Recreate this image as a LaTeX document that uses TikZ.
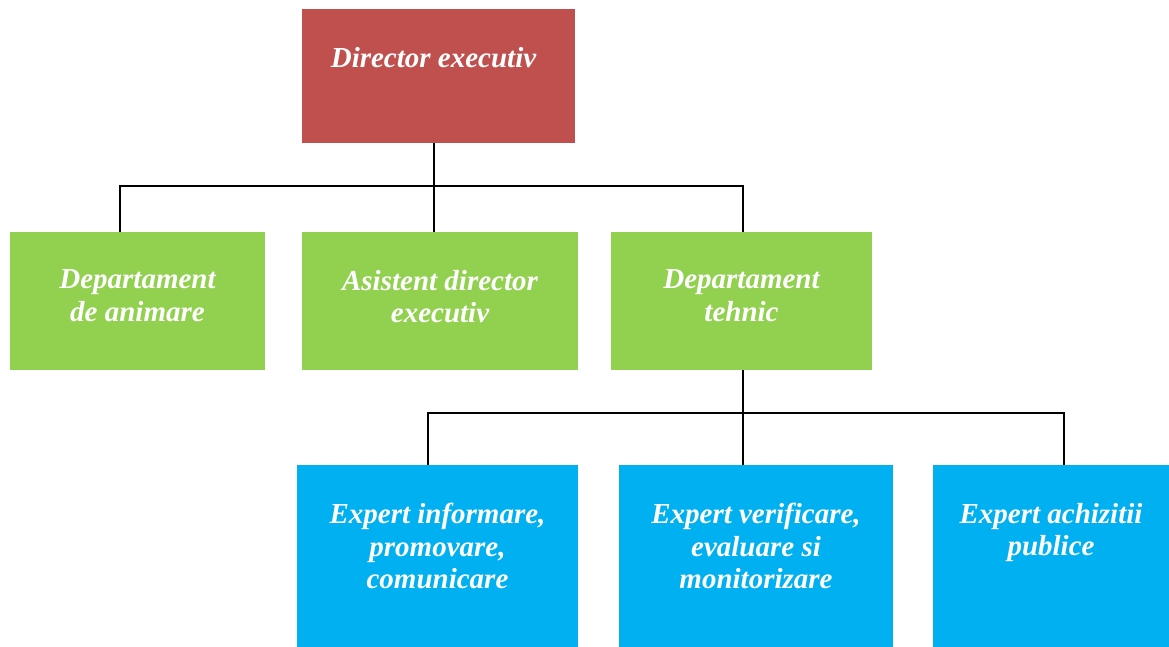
\documentclass[tikz,border=0pt]{standalone}
\usepackage{fontspec}
\setmainfont{Liberation Serif}
\usetikzlibrary{positioning}
\definecolor{dirred}{HTML}{C0504D}
\definecolor{depgreen}{HTML}{92D050}
\definecolor{expblue}{HTML}{00B0F0}
\tikzset{
 box/.style={rectangle, inner sep=0pt, draw=none},
 boxtext/.style={anchor=north, inner sep=0pt, align=center, text=white,
   font=\fontsize{14.5pt}{16.3pt}\selectfont\bfseries\itshape},
 link/.style={line width=0.7pt, black},
}
\begin{document}
\begin{tikzpicture}[x=0.5pt,y=-0.5pt]
\useasboundingbox (0,0) rectangle (1169,647);
% Director
\node[box, fill=dirred, minimum width=136.5pt, minimum height=67pt] (dir) at (438.5,76) {};
\node[boxtext, below=19pt of dir.north, xshift=-2.5pt] (dirtxt) {Director executiv};
% Departments
\node[box, fill=depgreen, minimum width=127.5pt, minimum height=69pt] (anim) at (137.5,301) {};
\node[box, fill=depgreen, minimum width=138pt, minimum height=69pt] (asist) at (440,301) {};
\node[box, fill=depgreen, minimum width=130.5pt, minimum height=69pt] (tehn) at (741.5,301) {};
\node[boxtext, below=19pt of anim.north] (animtxt) {Departament\\de animare};
\node[boxtext, below=19pt of asist.north] (asisttxt) {Asistent director\\executiv};
\node[boxtext, below=19pt of tehn.north] (tehntxt) {Departament\\tehnic};
% Experts
\node[box, fill=expblue, minimum width=140.5pt, minimum height=91pt] (info) at (437.5,556) {};
\node[box, fill=expblue, minimum width=137pt, minimum height=91pt] (verif) at (756,556) {};
\node[box, fill=expblue, minimum width=118pt, minimum height=91pt] (achiz) at (1051,556) {};
\node[boxtext, below=19pt of info.north] (infotxt) {Expert informare,\\promovare,\\comunicare};
\node[boxtext, below=19pt of verif.north] (veriftxt) {Expert verificare,\\evaluare si\\monitorizare};
\node[boxtext, below=19pt of achiz.north] (achiztxt) {Expert achizitii\\publice};
% Connectors
\coordinate (k1) at (120,186);
\coordinate (k2) at (434,186);
\coordinate (k3) at (743,186);
\draw[link] (k2 |- dir.south) -- (k2 |- asist.north);
\draw[link] (k1 |- anim.north) |- (k3) -- (k3 |- tehn.north);
%
\coordinate (m1) at (428,413);
\coordinate (m2) at (743,413);
\coordinate (m3) at (1064,413);
\draw[link] (m2 |- tehn.south) -- (m2 |- verif.north);
\draw[link] (m1 |- info.north) |- (m3) -- (m3 |- achiz.north);
\end{tikzpicture}
\end{document}
